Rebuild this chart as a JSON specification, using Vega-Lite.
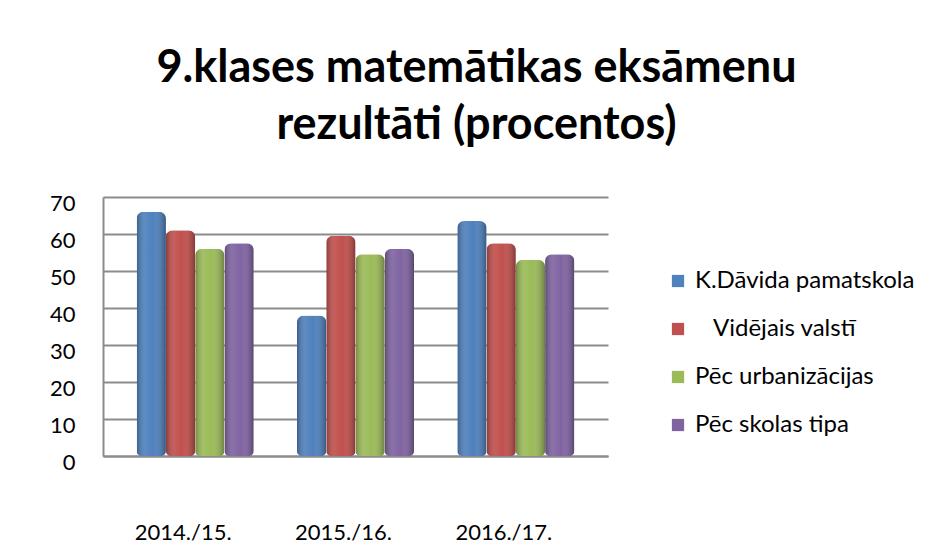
{
  "$schema": "https://vega.github.io/schema/vega-lite/v6.json",
  "autosize": {"type": "none"},
  "padding": {"left": 103, "top": 197, "right": 326, "bottom": 91},
  "width": 505,
  "height": 259,
  "background": "white",
  "title": {
    "text": ["9.klases matemātikas eksāmenu", "rezultāti (procentos)"],
    "font": "Lato",
    "fontSize": 45,
    "fontWeight": "bold",
    "color": "#000000",
    "anchor": "middle",
    "dx": 121,
    "offset": 44,
    "lineHeight": 57
  },
  "data": {
    "values": [
      {"gads": "2014./15.", "serija": "K.Dāvida pamatskola", "vertiba": 66},
      {"gads": "2014./15.", "serija": "\u2800Vidējais valstī", "vertiba": 61},
      {"gads": "2014./15.", "serija": "Pēc urbanizācijas", "vertiba": 56},
      {"gads": "2014./15.", "serija": "Pēc skolas tipa", "vertiba": 57.5},
      {"gads": "2015./16.", "serija": "K.Dāvida pamatskola", "vertiba": 38},
      {"gads": "2015./16.", "serija": "\u2800Vidējais valstī", "vertiba": 59.5},
      {"gads": "2015./16.", "serija": "Pēc urbanizācijas", "vertiba": 54.5},
      {"gads": "2015./16.", "serija": "Pēc skolas tipa", "vertiba": 56},
      {"gads": "2016./17.", "serija": "K.Dāvida pamatskola", "vertiba": 63.5},
      {"gads": "2016./17.", "serija": "\u2800Vidējais valstī", "vertiba": 57.5},
      {"gads": "2016./17.", "serija": "Pēc urbanizācijas", "vertiba": 53},
      {"gads": "2016./17.", "serija": "Pēc skolas tipa", "vertiba": 54.5}
    ]
  },
  "encoding": {
    "x": {
      "field": "gads",
      "type": "nominal",
      "sort": null,
      "scale": {"paddingInner": 0.27, "paddingOuter": 0.21},
      "axis": {
        "title": null,
        "labelAngle": 0,
        "labelFont": "Lato",
        "labelFontSize": 22,
        "labelColor": "#000000",
        "labelPadding": 66,
        "labelOffset": -12,
        "ticks": false,
        "domainColor": "#8c8c8c",
        "domainWidth": 2
      }
    },
    "xOffset": {
      "field": "serija",
      "type": "nominal",
      "sort": null,
      "scale": {"paddingInner": 0, "paddingOuter": 0}
    },
    "y": {
      "field": "vertiba",
      "type": "quantitative",
      "scale": {"domain": [0, 70], "nice": false},
      "axis": {
        "title": null,
        "values": [0, 10, 20, 30, 40, 50, 60, 70],
        "labelFont": "Lato",
        "labelFontSize": 22,
        "labelColor": "#000000",
        "labelPadding": 28,
        "labelOffset": 6,
        "ticks": false,
        "grid": true,
        "gridColor": "#8c8c8c",
        "gridWidth": 2,
        "domainColor": "#8c8c8c",
        "domainWidth": 2
      }
    }
  },
  "layer": [
    {
      "mark": {"type": "bar", "cornerRadiusTopLeft": 7, "cornerRadiusTopRight": 7, "cornerRadiusBottomLeft": 5, "cornerRadiusBottomRight": 5},
      "encoding": {
        "color": {
          "field": "serija",
          "type": "nominal",
          "sort": null,
          "scale": {"range": ["#4F81BD", "#C0504D", "#9BBB59", "#8064A2"]},
          "legend": {
            "title": null,
            "orient": "none",
            "legendX": 563,
            "legendY": 72,
            "symbolType": "square",
            "symbolSize": 150,
            "symbolStrokeWidth": 0,
            "labelFont": "Lato",
            "labelFontSize": 24,
            "labelColor": "#000000",
            "labelOffset": 5,
            "rowPadding": 24,
            "labelLimit": 400
          }
        }
      }
    },
    {
      "mark": {
        "type": "bar",
        "cornerRadiusTopLeft": 7,
        "cornerRadiusTopRight": 7,
        "cornerRadiusBottomLeft": 5,
        "cornerRadiusBottomRight": 5,
        "fill": {
          "gradient": "linear",
          "x1": 0, "y1": 0, "x2": 1, "y2": 0,
          "stops": [
            {"offset": 0, "color": "rgba(0,0,0,0.28)"},
            {"offset": 0.3, "color": "rgba(255,255,255,0.08)"},
            {"offset": 0.55, "color": "rgba(255,255,255,0.0)"},
            {"offset": 1, "color": "rgba(0,0,0,0.32)"}
          ]
        }
      }
    }
  ],
  "config": {"view": {"stroke": null}}
}
